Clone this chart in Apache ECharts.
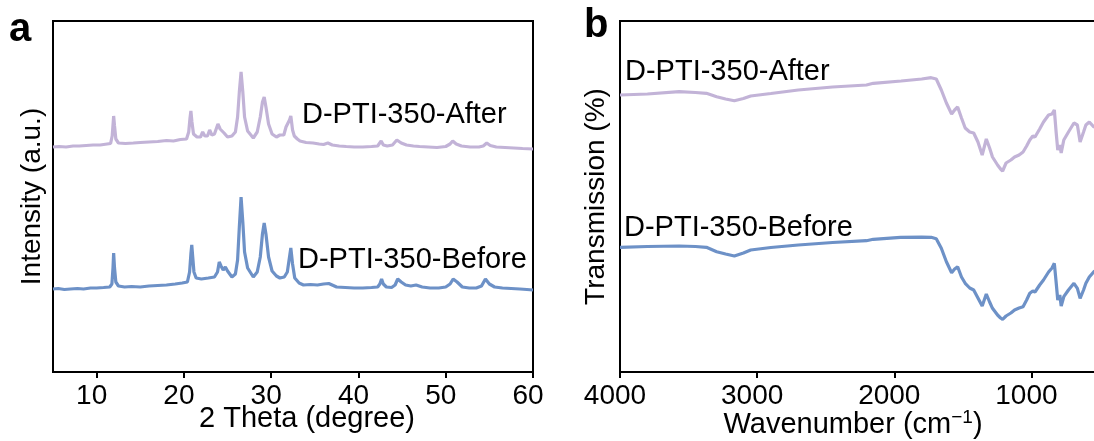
<!DOCTYPE html>
<html>
<head>
<meta charset="utf-8">
<script src="https://cdn.jsdelivr.net/npm/echarts@6/dist/echarts.min.js"></script>
<style>
html,body{margin:0;padding:0;background:#fff;}
#main{width:1094px;height:441px;}
</style>
</head>
<body>
<div id="main"></div>
<script>
// ---- Data (arbitrary units) ----
const xrdTicks = [10, 20, 30, 40, 50, 60];
const ftirTicks = [4000, 3000, 2000, 1000];

const seriesNames = ['D-PTI-350-After', 'D-PTI-350-Before'];

// XRD: [2theta, intensity]
const xrdAfter = [[5.0,225],[5.7,225.5],[6.5,225],[7.3,226],[8.0,226],[8.8,226.5],[9.6,227],[10.4,227],[11.2,228],[11.6,228.5],[11.78,236],[11.9,250],[11.95,256],[12.05,246],[12.2,233],[12.5,229],[13.3,228.5],[14.2,229],[15.0,229.5],[16.0,230],[17.0,230.5],[18.0,231.5],[18.8,231],[19.6,232.5],[20.3,233],[20.55,240],[20.7,254],[20.8,261],[20.92,250],[21.1,238],[21.5,235],[21.9,235],[22.15,240],[22.4,236],[22.7,236],[22.95,242],[23.2,237],[23.5,238],[23.9,248],[24.15,243],[24.35,244],[24.6,239],[25.0,235],[25.5,236],[25.9,240],[26.15,255],[26.35,280],[26.55,300],[26.75,280],[26.95,255],[27.3,241],[27.95,234],[28.4,240],[28.75,255],[29.0,270],[29.2,275],[29.4,265],[29.7,248],[30.1,238],[30.6,235],[31.0,237],[31.2,239],[31.45,237],[31.7,245],[31.9,243],[32.1,252],[32.25,256],[32.45,242],[32.65,236],[33.0,233],[33.3,231],[34.0,229.5],[34.8,229],[35.5,228],[36.0,227.5],[36.5,229],[37.0,227],[37.8,226],[38.6,225.5],[39.5,225],[40.5,225],[41.5,225.5],[42.2,226],[42.4,228],[42.6,231],[42.85,227],[43.3,226],[43.9,227],[44.4,232],[44.9,229],[45.5,227],[46.3,226],[47.0,225.5],[48.0,225],[49.0,224.5],[50.0,225.5],[50.5,228],[50.8,231],[51.2,228],[51.8,226],[52.8,225],[53.8,225],[54.3,226],[54.7,229],[55.1,226.5],[55.8,225],[56.8,224.5],[57.8,224],[58.8,223.5],[60.0,223]];

const xrdBefore = [[5.0,83],[5.6,83.5],[6.3,82.5],[7.0,83],[7.8,83.5],[8.5,83],[9.3,84],[10.0,84],[10.8,84.5],[11.5,85],[11.75,88],[11.88,105],[11.95,119],[12.05,104],[12.2,90],[12.5,86],[13.2,85],[14.0,85.5],[15.0,85],[16.0,86],[17.0,86.5],[18.0,87],[19.0,88],[19.8,89],[20.4,90],[20.65,100],[20.8,118],[20.9,127],[21.0,116],[21.15,100],[21.4,94],[22.0,93],[22.8,94],[23.5,95],[23.85,100],[24.05,110],[24.25,106],[24.5,102],[24.75,105],[25.0,101],[25.5,95],[25.9,98],[26.15,112],[26.35,145],[26.55,175],[26.75,150],[26.95,120],[27.3,104],[27.95,95],[28.4,100],[28.75,115],[29.0,138],[29.2,149],[29.4,138],[29.7,115],[30.1,101],[30.6,96],[31.0,94],[31.5,95],[31.85,100],[32.05,112],[32.25,124],[32.45,108],[32.7,94],[33.2,89],[33.7,87],[34.5,87.5],[35.3,87],[36.0,88],[36.6,88.5],[37.5,85],[38.5,84.5],[39.5,84],[40.5,84],[41.5,84.5],[42.2,85],[42.45,88],[42.65,93],[42.85,88],[43.2,85],[43.8,84.5],[44.2,87],[44.5,93],[44.9,90],[45.4,87],[46.0,86],[46.6,87],[47.3,85],[48.2,84],[49.2,84],[50.0,85],[50.5,88],[50.85,93],[51.3,90],[51.9,85],[52.7,84],[53.5,84],[54.1,86],[54.55,93],[55.0,88],[55.6,85],[56.5,84],[57.5,83.5],[58.5,83],[59.3,82.5],[60.0,82]];

// FTIR: [wavenumber, transmission]
const ftirAfter = [[4000,277],[3800,278],[3569,280.3],[3450,279.5],[3370,278.7],[3295,275.3],[3230,273],[3166,271.3],[3100,273.5],[3047,276],[2900,278.5],[2700,282],[2450,285],[2203,287],[2153,288.7],[1950,291],[1800,293],[1731,294.3],[1694,293],[1657,282],[1620,269],[1582,258],[1560,262],[1538,265],[1510,254],[1483,244],[1450,240],[1421,239],[1390,230],[1359,217],[1329,233],[1305,224],[1284,215],[1247,207],[1225,203],[1210,201],[1185,209],[1150,212],[1123,215],[1090,217],[1061,220],[1035,226],[1012,232],[990,236],[974,235],[940,243],[912,250],[875,257],[850,258],[833,262],[820,240],[808,222],[793,227],[783,219],[764,232],[730,240],[690,249],[665,247],[645,230],[620,240],[603,247],[578,250],[545,245],[500,246]];

const ftirBefore = [[4000,124.7],[3800,125.5],[3569,126],[3450,125.5],[3370,124.7],[3295,120.3],[3230,118],[3166,116],[3100,119],[3047,122],[2900,124.5],[2700,127],[2450,129.5],[2203,131.3],[2153,132.7],[1955,134.7],[1800,134.8],[1731,134.7],[1694,133.3],[1657,123.7],[1620,110.3],[1582,99.3],[1560,103],[1538,105.3],[1510,95],[1483,88.7],[1450,84],[1421,82],[1390,74],[1359,66],[1329,78],[1305,70],[1284,63.7],[1247,57],[1225,54],[1210,52.7],[1185,56],[1150,59],[1123,62],[1090,64],[1061,65.3],[1035,72],[1012,78.7],[990,81],[974,80],[940,87],[912,92],[875,100],[850,104],[833,108.7],[820,90],[808,72],[793,77],[783,66],[764,75.3],[730,82],[690,88.7],[665,83.7],[645,73.7],[620,82],[603,88.7],[578,95],[545,100.3],[500,104]];

// ---- Chart ----
const FONT = "'Liberation Sans', Arial, Helvetica, sans-serif";
const PURPLE = '#c2b3d7';
const BLUE = '#6d91c7';

const chart = echarts.init(document.getElementById('main'), null, {renderer: 'canvas'});

function xAxisCommon(ticks) {
  return {
    type: 'value',
    nameLocation: 'middle',
    nameMoveOverlap: false,
    axisLine: {show: true, onZero: false, lineStyle: {color: '#000', width: 2}},
    axisTick: {show: true, inside: false, length: 6, lineStyle: {color: '#000', width: 2}, customValues: ticks},
    axisLabel: {color: '#000', fontSize: 28, fontFamily: FONT, margin: 10, customValues: ticks,
      padding: [0, 10, 0, 0],
      formatter: function (v) { return String(v); }},
    splitLine: {show: false},
    nameTextStyle: {color: '#000', fontSize: 29, fontFamily: FONT}
  };
}
function yAxisCommon(name, gap) {
  return {
    type: 'value', min: 0, max: 351,
    name: name, nameLocation: 'middle', nameGap: gap, nameRotate: 90,
    nameMoveOverlap: false,
    nameTextStyle: {color: '#000', fontSize: 28, fontFamily: FONT},
    axisLine: {show: true, lineStyle: {color: '#000', width: 2}},
    axisTick: {show: false}, axisLabel: {show: false}, splitLine: {show: false}
  };
}

const option = {
  animation: false,
  backgroundColor: '#fff',
  grid: [
    {left: 53, top: 21, width: 480, height: 351, show: true, borderColor: '#000', borderWidth: 2,
      outerBoundsMode: 'none', containLabel: false},
    {left: 620, top: 21, width: 480, height: 351, show: true, borderColor: '#000', borderWidth: 2,
      outerBoundsMode: 'none', containLabel: false}
  ],
  xAxis: [
    Object.assign(xAxisCommon(xrdTicks), {
      gridIndex: 0, min: 5, max: 60,
      name: '2 Theta (degree)', nameGap: 32,
      nameTextStyle: {color: '#000', fontSize: 29, fontFamily: FONT, padding: [0, 0, 0, 28]}
    }),
    Object.assign(xAxisCommon(ftirTicks), {
      gridIndex: 1, min: 500, max: 4000, inverse: true,
      name: 'Wavenumber (cm{sup|\u22121})', nameGap: 36,
      nameTextStyle: {color: '#000', fontSize: 29, fontFamily: FONT, padding: [0, 14, 0, 0],
        rich: {sup: {fontSize: 19, fontFamily: FONT, color: '#000', padding: [0, 0, 14, 0]}}}
    })
  ],
  yAxis: [
    Object.assign(yAxisCommon('Intensity (a.u.)', 7), {gridIndex: 0}),
    Object.assign(yAxisCommon('Transmission (%)', 10), {gridIndex: 1})
  ],
  series: [
    {name: seriesNames[0], type: 'line', xAxisIndex: 0, yAxisIndex: 0, data: xrdAfter, showSymbol: false,
      lineStyle: {color: PURPLE, width: 3.2}, itemStyle: {color: PURPLE}, clip: true},
    {name: seriesNames[1], type: 'line', xAxisIndex: 0, yAxisIndex: 0, data: xrdBefore, showSymbol: false,
      lineStyle: {color: BLUE, width: 3.2}, itemStyle: {color: BLUE}, clip: true},
    {name: seriesNames[0], type: 'line', xAxisIndex: 1, yAxisIndex: 1, data: ftirAfter, showSymbol: false,
      lineStyle: {color: PURPLE, width: 3.2}, itemStyle: {color: PURPLE}, clip: true},
    {name: seriesNames[1], type: 'line', xAxisIndex: 1, yAxisIndex: 1, data: ftirBefore, showSymbol: false,
      lineStyle: {color: BLUE, width: 3.2}, itemStyle: {color: BLUE}, clip: true}
  ],
  graphic: [
    {type: 'text', left: 9, top: 10, style: {text: 'a', font: "bold 40px " + FONT, fill: '#000'}},
    {type: 'text', left: 584, top: 6, style: {text: 'b', font: "bold 40px " + FONT, fill: '#000'}},
    {type: 'text', left: 302, top: 100, style: {text: seriesNames[0], font: "29px " + FONT, fill: '#000'}},
    {type: 'text', left: 298, top: 245, style: {text: seriesNames[1], font: "29px " + FONT, fill: '#000'}},
    {type: 'text', left: 625, top: 57, style: {text: seriesNames[0], font: "29px " + FONT, fill: '#000'}},
    {type: 'text', left: 624, top: 213, style: {text: seriesNames[1], font: "29px " + FONT, fill: '#000'}}
  ]
};
chart.setOption(option);
</script>
</body>
</html>
